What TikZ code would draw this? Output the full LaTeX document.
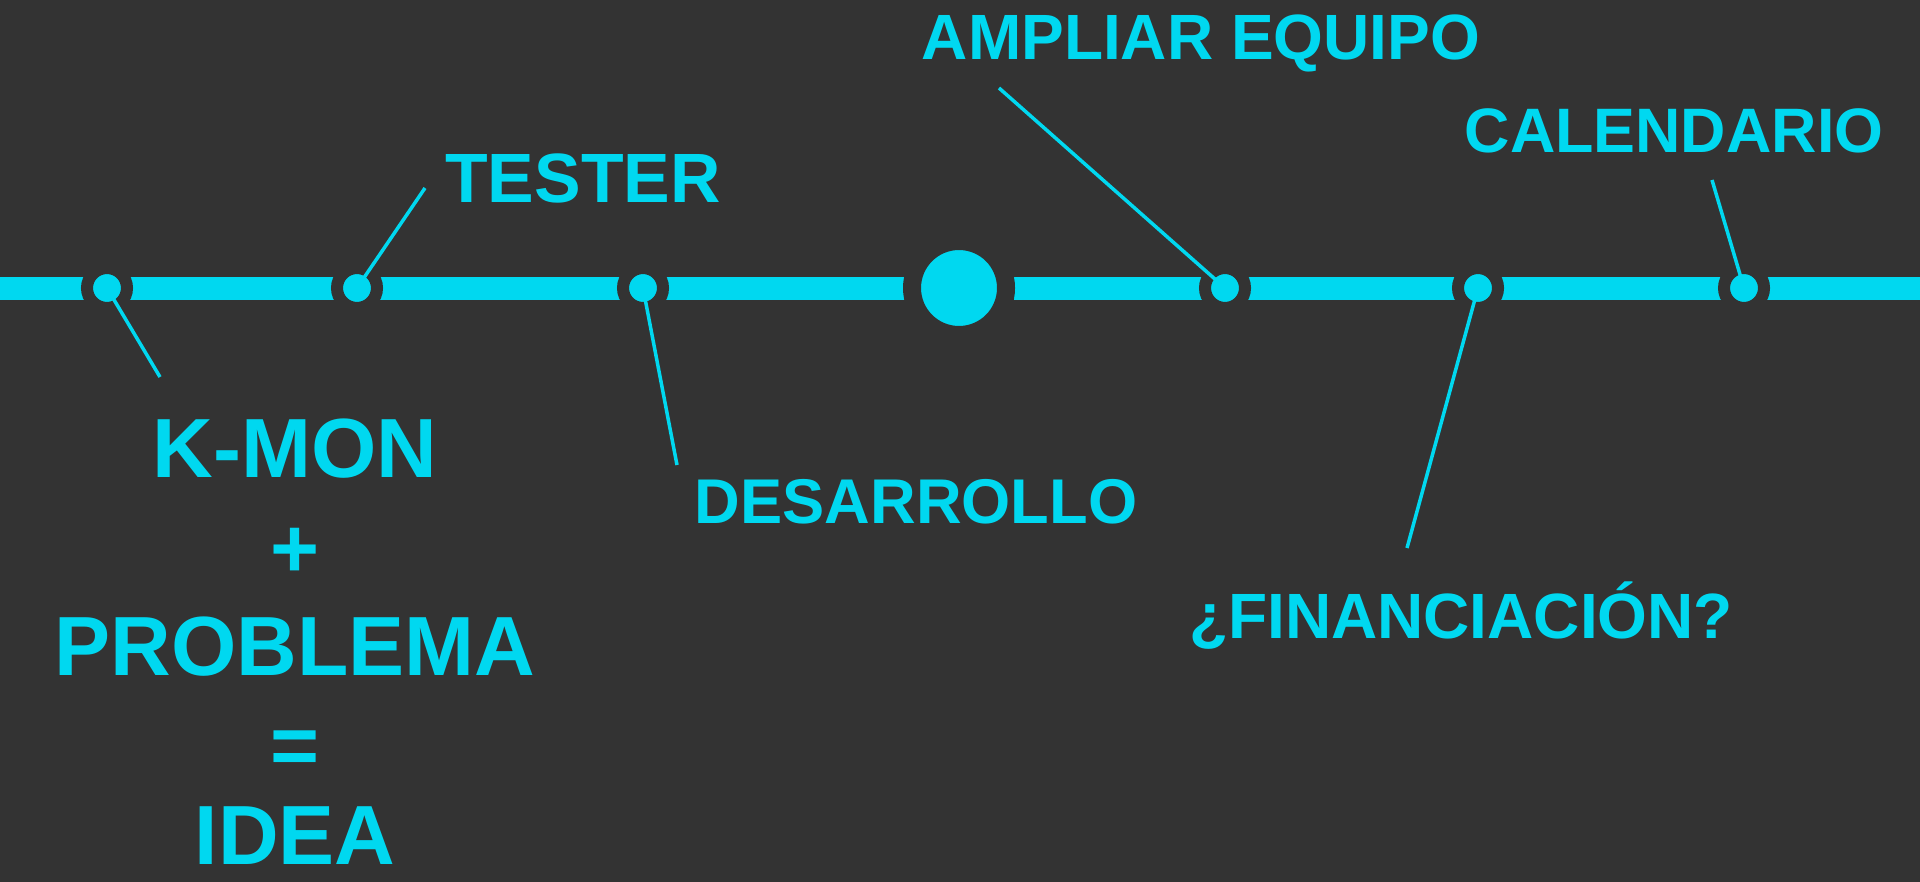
\documentclass[tikz,border=0pt]{standalone}
\usepackage{fontspec}
\setmainfont{Liberation Sans}
\definecolor{bgcol}{RGB}{51,51,51}
\definecolor{tlcyan}{RGB}{0,216,240}
\begin{document}
\begin{tikzpicture}[x=0.5pt,y=-0.5pt,
    dot/.style={circle,fill=tlcyan,draw=bgcol,line width=6pt,minimum size=20pt,inner sep=0pt},
    bigdot/.style={dot,line width=9pt,minimum size=47pt},
    leader/.style={draw=tlcyan,line width=1.75pt},
    lbl/.style={text=tlcyan,font=\bfseries\fontsize{#1}{#1}\selectfont,anchor=base,inner sep=0pt}]
    \fill[bgcol] (0,0) rectangle (1920,882);
    \useasboundingbox (0,0) rectangle (1920,882);
    \draw[tlcyan,line width=11.5pt] (0,288)--(1920,288);
    \node[dot] (pkmon) at (107,288) {};
    \node[dot] (ptester) at (357,288) {};
    \node[dot] (pdesarrollo) at (643,288) {};
    \node[bigdot] (pahora) at (959,288) {};
    \node[dot] (pampliar) at (1225,288) {};
    \node[dot] (pfinan) at (1478,288) {};
    \node[dot] (pcalendario) at (1744,288) {};
    \coordinate (ekmon) at (160,377);
    \coordinate (etester) at (425,188);
    \coordinate (edesarrollo) at (677,465);
    \coordinate (eampliar) at (999,88);
    \coordinate (efinan) at (1407,548);
    \coordinate (ecalendario) at (1712,180);
    \draw[leader] (pkmon.center)--(ekmon) (ptester.center)--(etester)
      (pdesarrollo.center)--(edesarrollo) (pampliar.center)--(eampliar)
      (pfinan.center)--(efinan) (pcalendario.center)--(ecalendario);
    \node[lbl=34.9] (tester) at (583,203) {TESTER};
    \node[lbl=32] (ampliar) at (1201,60) {AMPLIAR EQUIPO};
    \node[lbl=31.4] (calendario) at (1674,153) {CALENDARIO};
    \node[lbl=31.6] (desarrollo) at (916,523) {DESARROLLO};
    \node[lbl=32] (finan) at (1461,638) {¿FINANCIACIÓN?};
    \node[lbl=42] (kmon) at (295,477) {K-MON};
    \node[lbl=42] (plus) at (295,577) {+};
    \node[lbl=42] (problema) at (295,675) {PROBLEMA};
    \node[lbl=42] (equals) at (295,774) {=};
    \node[lbl=42] (idea) at (295,864) {IDEA};
\end{tikzpicture}
\end{document}
